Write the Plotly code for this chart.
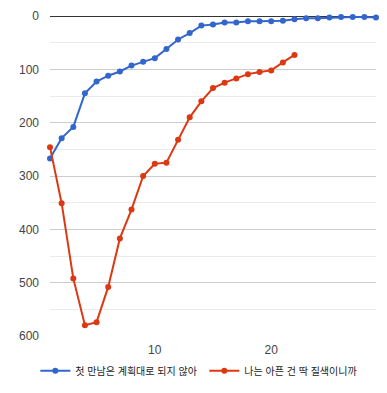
import plotly.graph_objects as go

blue_name = "첫 만남은 계획대로 되지 않아"
red_name = "나는 아픈 건 딱 질색이니까"

blue_x = list(range(1, 30))
blue_y = [267, 229, 208, 145, 123, 112, 104, 93, 86, 79, 62, 44, 32, 18, 16, 12, 12, 10, 10, 10, 9, 6, 4, 4, 3, 2, 2, 2, 3]

red_x = list(range(1, 23))
red_y = [246, 351, 492, 580, 574, 508, 417, 363, 300, 277, 275, 232, 190, 160, 135, 125, 117, 109, 105, 102, 87, 73]

x_ticks = [10, 20]
y_ticks = [0, 100, 200, 300, 400, 500, 600]

font_family = "Arial, 'Liberation Sans', 'Noto Sans CJK KR', sans-serif"

fig = go.Figure()
fig.add_trace(go.Scatter(x=blue_x, y=blue_y, name=blue_name, mode="lines+markers",
                         line=dict(color="#3366cc", width=2),
                         marker=dict(color="#3366cc", size=6), cliponaxis=False))
fig.add_trace(go.Scatter(x=red_x, y=red_y, name=red_name, mode="lines+markers",
                         line=dict(color="#dc3912", width=2),
                         marker=dict(color="#dc3912", size=6), cliponaxis=False))

# page body has an 8px default margin, so the figure is sized to fit inside the window
fig.update_layout(
    width=379, height=385,
    margin=dict(l=42, r=11, t=8, b=52),
    paper_bgcolor="white", plot_bgcolor="white",
    font=dict(family=font_family, size=12, color="#444444"),
    showlegend=True,
    legend=dict(orientation="h", x=-0.045, xanchor="left", y=-0.063, yanchor="top",
                font=dict(size=10, color="#222222"), itemwidth=30,
                entrywidth=124, tracegroupgap=0),
    xaxis=dict(range=[1, 29], tickvals=x_ticks, showgrid=False, zeroline=False,
               showline=False, ticks="", tickfont=dict(color="#444444"),
               ticklabelstandoff=5, automargin=False),
    yaxis=dict(range=[600, 0], tickvals=y_ticks, showgrid=True, gridcolor="#cccccc",
               gridwidth=1, zeroline=True, zerolinecolor="#333333", zerolinewidth=1,
               showline=False, ticks="", ticklabelstandoff=10, automargin=False,
               ticklabeloverflow="allow",
               minor=dict(dtick=50, showgrid=True, gridcolor="#ebebeb", ticks="")),
)

fig.write_html("out.html")
